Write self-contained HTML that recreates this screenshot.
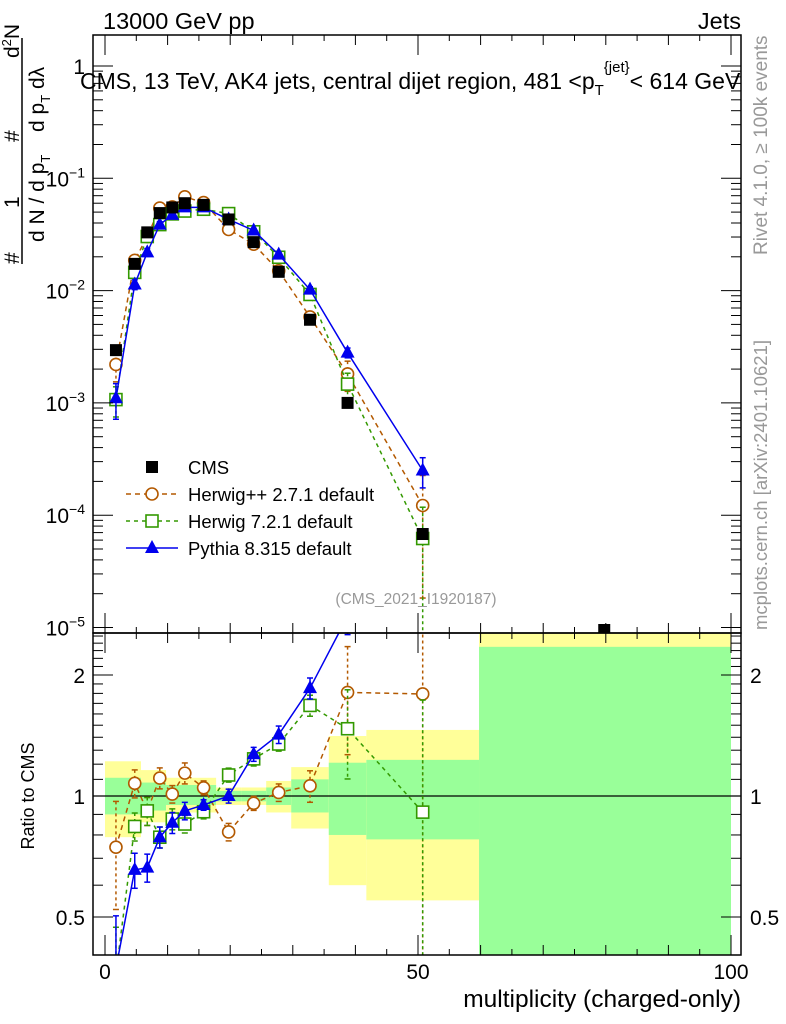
<!DOCTYPE html>
<html><head><meta charset="utf-8"><style>
html,body{margin:0;background:#fff;overflow:hidden;width:786px;height:1024px;}
svg{display:block;font-family:"Liberation Sans",sans-serif;}
</style></head><body>
<svg id="c" width="786" height="1024" viewBox="0 0 786 1024">
<text x="103" y="29" font-size="23.5">13000 GeV pp</text>
<text x="741" y="29" font-size="23.5" text-anchor="end">Jets</text>
<text x="767" y="255" font-size="19" fill="#999" transform="rotate(-90 767 255)">Rivet 4.1.0, ≥ 100k events</text>
<text x="767" y="630" font-size="18.5" fill="#999" transform="rotate(-90 767 630)">mcplots.cern.ch [arXiv:2401.10621]</text>
<g font-size="21">
 <line x1="22" y1="38" x2="22" y2="264" stroke="#000" stroke-width="1.5"/>
 <text transform="translate(19,264) rotate(-90)">#</text>
 <text transform="translate(19,208) rotate(-90)">1</text>
 <text transform="translate(19,142) rotate(-90)">#</text>
 <text transform="translate(19,58) rotate(-90)">d<tspan font-size="13" dy="-8">2</tspan><tspan dy="8">N</tspan></text>
 <text transform="translate(44,242) rotate(-90)">d N / d p<tspan font-size="13" dy="6">T</tspan></text>
 <text transform="translate(44,132) rotate(-90)">d p<tspan font-size="13" dy="6">T</tspan><tspan dy="-6">  dλ</tspan></text>
</g>
<text x="20" y="796" font-size="18" transform="rotate(-90 20 796)" text-anchor="middle" dy="14">Ratio to CMS</text>
<text x="741" y="1007" font-size="24.5" text-anchor="end">multiplicity (charged-only)</text>
<g id="g"></g>
</svg>
<script>
const xs=[1.75,4.75,6.75,8.75,10.75,12.75,15.75,19.75,23.75,27.75,32.75,38.75,50.75,79.75];
const cms=[2.95e-3,0.0173,0.033,0.049,0.055,0.060,0.058,0.043,0.027,0.0147,0.0055,1.0e-3,6.8e-5,9.5e-6];
const herwigpp=[2.2e-3,0.0186,0.0303,0.0543,0.0556,0.0684,0.0608,0.035,0.0259,0.0150,0.00583,1.81e-3,1.22e-4];
const herwigppErr=[0.3,0.08,0.08,0.06,0.05,0.06,0.04,0.05,0.04,0.05,0.09,0.3,0.85];
const herwig7=[1.07e-3,0.01453,0.0303,0.0387,0.0482,0.0511,0.0530,0.0485,0.0334,0.0198,0.00924,1.47e-3,6.2e-5];
const herwig7Err=[0.3,0.08,0.08,0.06,0.06,0.05,0.04,0.04,0.04,0.04,0.06,0.25,0.9];
const pythia=[1.1e-3,0.01133,0.0219,0.0387,0.0472,0.0551,0.0551,0.043,0.0343,0.0209,0.0102,2.8e-3,2.5e-4];
const pythiaErr=[0.35,0.1,0.08,0.06,0.06,0.05,0.03,0.04,0.04,0.05,0.06,0.1,0.3];
const bandEdges=[0,5.75,9.75,17.75,21.75,25.75,29.75,35.75,41.75,59.75,100];
const yelUp=[1.22,1.16,1.11,1.05,1.05,1.09,1.18,1.41,1.46,3];
const yelDn=[0.79,0.86,0.91,0.95,0.95,0.91,0.83,0.60,0.55,0.3];
const grnUp=[1.11,1.08,1.065,1.03,1.03,1.05,1.10,1.21,1.23,2.35];
const grnDn=[0.90,0.92,0.95,0.97,0.97,0.95,0.91,0.80,0.78,0.3];
const yTicks=[0,-1,-2,-3,-4,-5];
const xTicks=[0,50,100];
const rTicks=[0.5,1,2];

const L=93,R=741,T=35,M=633,B=955;
const X=v=>105+v*6.26;
const Y=v=>66-112.3*Math.log10(v);
const RY=r=>796-402*Math.log10(r);
const NS='http://www.w3.org/2000/svg';
const g=document.getElementById('g');
function el(t,a,p){const e=document.createElementNS(NS,t);for(const k in a)e.setAttribute(k,a[k]);(p||g).appendChild(e);return e;}
const defs=el('defs',{});
const c1=el('clipPath',{id:'cm'},defs);el('rect',{x:L,y:T,width:R-L,height:M-T},c1);
const c2=el('clipPath',{id:'cr'},defs);el('rect',{x:L,y:M,width:R-L,height:B-M},c2);
const gm=el('g',{'clip-path':'url(#cm)'});


const gr=el('g',{'clip-path':'url(#cr)'});


for(let i=0;i<bandEdges.length-1;i++){
 const x0=X(bandEdges[i]),x1=X(bandEdges[i+1]);
 const yb=el('rect',{x:x0,y:RY(yelUp[i]),width:x1-x0,height:RY(yelDn[i])-RY(yelUp[i]),fill:'#ffff99'},gr);
 
 
 const gb=el('rect',{x:x0,y:RY(grnUp[i]),width:x1-x0,height:RY(grnDn[i])-RY(grnUp[i]),fill:'#99ff99'},gr);
 
 
}
el('line',{x1:L,y1:RY(1),x2:R,y2:RY(1),stroke:'#000','stroke-width':1.2},gr);
el('rect',{x:L,y:T,width:R-L,height:M-T,fill:'none',stroke:'#000','stroke-width':1.5});
el('rect',{x:L,y:M,width:R-L,height:B-M,fill:'none',stroke:'#000','stroke-width':1.5});
yTicks.forEach(p=>{
 const y=Y(Math.pow(10,p));
 el('line',{x1:L,y1:y,x2:L+20,y2:y,stroke:'#000'});el('line',{x1:R,y1:y,x2:R-20,y2:y,stroke:'#000'});
 const t=el('text',{x:85,y:y+8,'font-size':21,'text-anchor':'end'});
 
 
 if(p===0)t.textContent='1';else{t.innerHTML='10<tspan font-size="14" dy="-9">−'+(-p)+'</tspan>';}
 if(p>-5)for(let k=2;k<10;k++){const ym=Y(k*Math.pow(10,p-1));if(ym>T){el('line',{x1:L,y1:ym,x2:L+10,y2:ym,stroke:'#000'});el('line',{x1:R,y1:ym,x2:R-10,y2:ym,stroke:'#000'});}}
});
[0.4,0.5,0.6,0.7,0.8,0.9,1,1.1,1.2,1.3,1.4,1.5,1.6,1.7,1.8,1.9,2,2.1,2.2,2.3,2.4,2.5].forEach(r=>{
 const y=RY(r);if(y<M||y>B)return;const big=rTicks.includes(r);
 el('line',{x1:L,y1:y,x2:L+(big?20:10),y2:y,stroke:'#000'});el('line',{x1:R,y1:y,x2:R-(big?20:10),y2:y,stroke:'#000'});
});
rTicks.forEach(r=>{
 const a=el('text',{x:85,y:RY(r)+8,'font-size':21,'text-anchor':'end'});a.textContent=r;
 
 
 const b=el('text',{x:750,y:RY(r)+8,'font-size':21});b.textContent=r;
 
 
});
for(let v=0;v<=100;v+=5){const big=v%50===0,mid=v%10===0;const h=big?20:(mid?10:6);
 el('line',{x1:X(v),y1:M,x2:X(v),y2:M-h,stroke:'#000'});el('line',{x1:X(v),y1:T,x2:X(v),y2:T+h,stroke:'#000'});
 el('line',{x1:X(v),y1:B,x2:X(v),y2:B-h,stroke:'#000'});el('line',{x1:X(v),y1:M,x2:X(v),y2:M+h,stroke:'#000'});}
xTicks.forEach(v=>{const t=el('text',{x:X(v),y:979,'font-size':21,'text-anchor':'middle'});t.textContent=v;
 
 });
const tt=el('text',{x:80,y:89,'font-size':23});


tt.innerHTML='CMS, 13 TeV, AK4 jets, central dijet region, 481 &lt;p<tspan font-size="15" dy="6">T</tspan><tspan font-size="15" dy="-23">{jet}</tspan><tspan dy="17">&lt; 614 GeV</tspan>';
const ref=el('text',{x:416,y:604,'font-size':15.5,fill:'#999','text-anchor':'middle'});ref.textContent='(CMS_2021_I1920187)';


function marker(kind,x,y,col,p,name){
 let m;
 if(kind==='circle')m=el('circle',{cx:x,cy:y,r:6,fill:'#fff',stroke:col,'stroke-width':1.6},p);
 else if(kind==='square')m=el('rect',{x:x-6,y:y-6,width:12,height:12,fill:'#fff',stroke:col,'stroke-width':1.6},p);
 else if(kind==='tri')m=el('polygon',{points:`${x},${y-8} ${x-7},${y+5} ${x+7},${y+5}`,fill:col},p);
 else m=el('rect',{x:x-6,y:y-6,width:12,height:12,fill:col},p);
 
 
}
const series=[
 {v:herwigpp,e:herwigppErr,col:'#b35900',k:'circle',dash:'5,4',n:'herwigpp'},
 {v:herwig7,e:herwig7Err,col:'#339900',k:'square',dash:'4,4',n:'herwig7'},
 {v:pythia,e:pythiaErr,col:'#0000ee',k:'tri',dash:'',n:'pythia'}];
series.forEach(s=>{
 const pts=s.v.map((v,i)=>[X(xs[i]),Y(v)]);
 const rpts=s.v.map((v,i)=>[X(xs[i]),RY(v/cms[i])]);
 el('polyline',{points:pts.map(p=>p.join(',')).join(' '),fill:'none',stroke:s.col,'stroke-width':1.5,'stroke-dasharray':s.dash},gm);
 el('polyline',{points:rpts.map(p=>p.join(',')).join(' '),fill:'none',stroke:s.col,'stroke-width':1.5,'stroke-dasharray':s.dash},gr);
 s.v.forEach((v,i)=>{
  const x=X(xs[i]),e=s.e[i];
  [[gm,Y(v*(1+e)),Y(Math.max(v*(1-e),1e-7))],[gr,RY(v/cms[i]*(1+e)),RY(Math.max(v/cms[i]*(1-e),0.01))]].forEach(([p,y1,y2])=>{
   el('line',{x1:x,y1:y1,x2:x,y2:y2,stroke:s.col,'stroke-width':1.5,'stroke-dasharray':s.dash?'3,3':''},p);
   el('line',{x1:x-3,y1:y1,x2:x+3,y2:y1,stroke:s.col,'stroke-width':1.5},p);
   el('line',{x1:x-3,y1:y2,x2:x+3,y2:y2,stroke:s.col,'stroke-width':1.5},p);
  });
  marker(s.k,x,Y(v),s.col,gm,s.n+'-point');
  marker(s.k,x,RY(v/cms[i]),s.col,gr,s.n+'-ratio-point');
 });
});
cms.forEach((v,i)=>marker('cms',X(xs[i]),Y(v),'#000',gm,'cms-data-point'));
const leg=[['CMS','cms','#000',''],['Herwig++ 2.7.1 default','circle','#b35900','5,4'],['Herwig 7.2.1 default','square','#339900','4,4'],['Pythia 8.315 default','tri','#0000ee','']];
leg.forEach((l,i)=>{
 const y=467+i*27;
 const lg=el('g',{});
 
 
 if(i>0)el('line',{x1:126,y1:y,x2:178,y2:y,stroke:l[2],'stroke-width':1.5,'stroke-dasharray':l[3]},lg);
 marker(l[1],152,y,l[2],lg,'legend-marker');
 const t=el('text',{x:188,y:y+7,'font-size':18.5},lg);t.textContent=l[0];
});
</script>
</body></html>
